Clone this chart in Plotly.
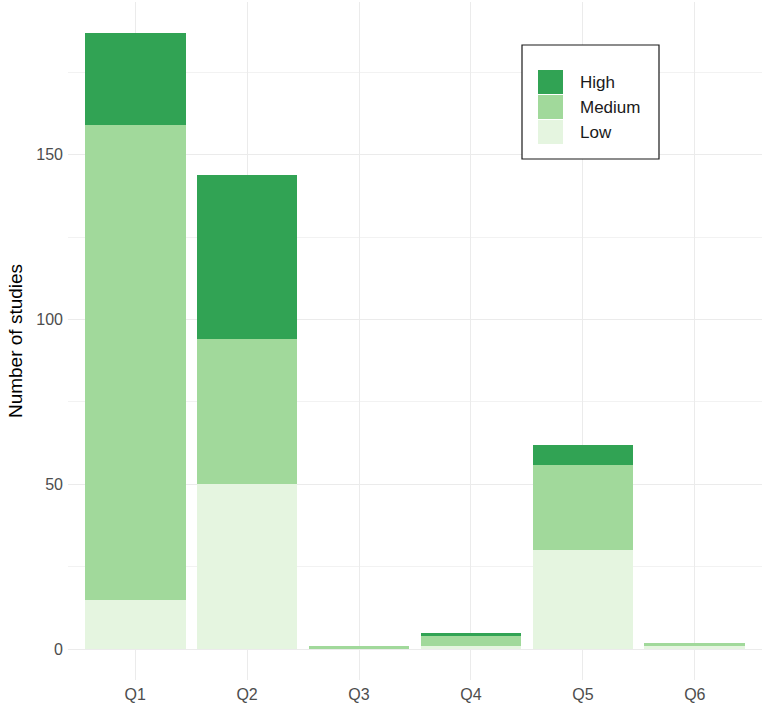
import plotly.graph_objects as go

categories = ["Q1", "Q2", "Q3", "Q4", "Q5", "Q6"]
low = [15, 50, 0, 1, 30, 1]
medium = [144, 44, 1, 3, 26, 1]
high = [28, 50, 0, 1, 6, 0]

series_names = ["Low", "Medium", "High"]
series_values = [low, medium, high]
series_colors = ["#e5f5e0", "#a1d99b", "#31a354"]

W, H = 767, 705
ML, MR, MT, MB = 68, 5, 2, 25
PW, PH = W - ML - MR, H - MT - MB


def px_x(px):
    return (px - ML) / PW


def px_y(py):
    return (H - MB - py) / PH


fig = go.Figure()
for name, vals, col in zip(series_names, series_values, series_colors):
    fig.add_trace(go.Bar(x=categories, y=vals, name=name,
                         marker=dict(color=col, line=dict(width=0)),
                         width=0.9, showlegend=False))

# custom legend (ggplot-style) drawn in paper coordinates
shapes = [dict(type="rect", xref="paper", yref="paper",
               x0=px_x(522), x1=px_x(659), y0=px_y(159), y1=px_y(45),
               line=dict(color="#1a1a1a", width=1.2), fillcolor="white", layer="above")]
annotations = []
legend_order = list(zip(series_names, series_colors))[::-1]
for i, (name, col) in enumerate(legend_order):
    top = 70 + i * 25
    shapes.append(dict(type="rect", xref="paper", yref="paper",
                       x0=px_x(538), x1=px_x(563), y0=px_y(top + 24), y1=px_y(top),
                       line=dict(width=0), fillcolor=col, layer="above"))
    annotations.append(dict(xref="paper", yref="paper", x=px_x(578), y=px_y(top + 12),
                            text=name, showarrow=False, xanchor="left", yanchor="middle",
                            font=dict(size=17, color="#1a1a1a")))

fig.update_layout(
    template="none",
    barmode="stack",
    width=W, height=H,
    margin=dict(l=ML, r=MR, t=MT, b=MB),
    paper_bgcolor="white", plot_bgcolor="white",
    font=dict(family="Liberation Sans, Arial, sans-serif", color="#4d4d4d", size=16),
    showlegend=False,
    shapes=shapes,
    annotations=annotations,
)
fig.update_xaxes(
    range=[-0.6, 5.6], showgrid=True, gridcolor="#ebebeb", gridwidth=1,
    zeroline=False, showline=False, ticks="", ticklabelstandoff=3,
    tickfont=dict(size=16, color="#4d4d4d"),
)
fig.update_yaxes(
    range=[-9.35, 196.35], tickvals=[0, 50, 100, 150],
    showgrid=True, gridcolor="#ebebeb", gridwidth=1,
    minor=dict(tickvals=[25, 75, 125, 175], showgrid=True, gridcolor="#f2f2f2", gridwidth=0.7),
    zeroline=False, showline=False, ticks="", ticklabelstandoff=4,
    tickfont=dict(size=16, color="#4d4d4d"),
    title=dict(text="Number of studies",
               font=dict(family="Liberation Sans Narrow, Liberation Sans, Arial, sans-serif",
                         size=19, color="#000000"), standoff=8),
)

fig.write_html("out.html", config={"displayModeBar": False},
               post_script="document.body.style.margin='0px';")
